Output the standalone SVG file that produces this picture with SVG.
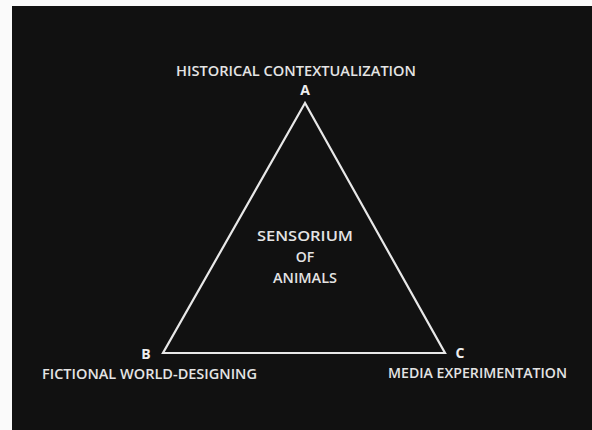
<svg xmlns="http://www.w3.org/2000/svg" width="592" height="430" viewBox="0 0 592 430">
<style>
.t{font-family:"Open Sans","Liberation Sans",sans-serif;fill:#e4e4e4;font-size:14px;font-weight:600;}
.l{font-family:"Open Sans","Liberation Sans",sans-serif;fill:#eeeeee;font-size:14px;font-weight:bold;text-anchor:middle;}
.e{stroke:#e8e8e8;stroke-width:2.2;fill:none;stroke-linejoin:miter;}
</style>
<rect x="0" y="0" width="592" height="430" fill="#fafafa"/>
<rect x="12" y="6" width="580" height="424" fill="#111111"/>
<g id="connectors">
<polygon class="e" points="305,103 163,353 445,353"/>
</g>
<g id="nodeA">
<text class="t" x="176" y="76" textLength="240" lengthAdjust="spacingAndGlyphs">HISTORICAL CONTEXTUALIZATION</text>
<text class="l" x="305" y="95">A</text>
</g>
<g id="nodeB">
<text class="l" x="146" y="359">B</text>
<text class="t" x="42" y="379" textLength="215" lengthAdjust="spacingAndGlyphs">FICTIONAL WORLD-DESIGNING</text>
</g>
<g id="nodeC">
<text class="l" x="460" y="358">C</text>
<text class="t" x="388" y="378" textLength="179" lengthAdjust="spacingAndGlyphs">MEDIA EXPERIMENTATION</text>
</g>
<g id="center">
<text class="t" x="305" y="241" text-anchor="middle" textLength="96" lengthAdjust="spacingAndGlyphs">SENSORIUM</text>
<text class="t" x="305" y="262" text-anchor="middle">OF</text>
<text class="t" x="305" y="283" text-anchor="middle" textLength="64" lengthAdjust="spacingAndGlyphs">ANIMALS</text>
</g>
</svg>
